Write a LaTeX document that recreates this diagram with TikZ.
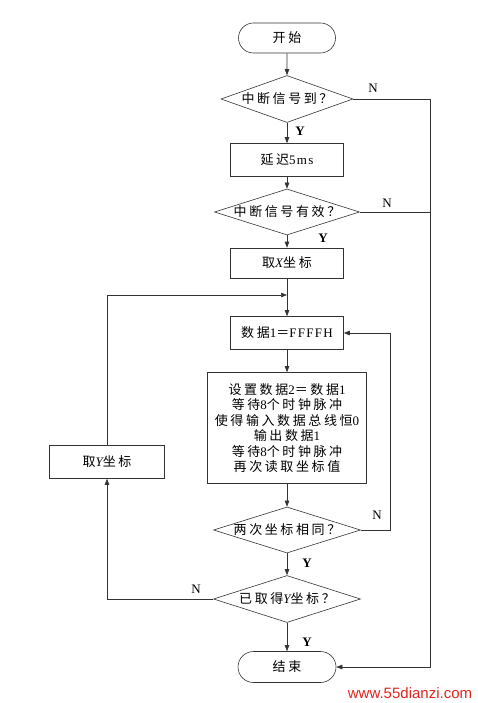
\documentclass[tikz,border=0pt]{standalone}
\usepackage{fontspec}
\setmainfont{Liberation Serif}
\newfontfamily\cjk{Noto Sans CJK SC}[LetterSpace=20]
\newfontfamily\latsp{Liberation Serif}[LetterSpace=10]
\newfontfamily\wmfont{Liberation Sans}
\usepackage{xcolor}
\usepackage{tikz}
\usetikzlibrary{arrows.meta,positioning,shapes.geometric,shapes.misc}
\definecolor{linec}{HTML}{333333}
\definecolor{markc}{HTML}{E0241E}
\newcommand{\lat}[1]{{\latsp #1}}
\tikzset{
  ar/.style={-{Triangle[length=6pt,width=4.5pt]},linec,line width=0.6pt},
  ln/.style={linec,line width=0.6pt},
  box/.style={draw=linec,line width=0.6pt,align=center,inner sep=0pt,font=\fontsize{13}{15.5}\selectfont\cjk},
  term/.style={box,rounded rectangle},
  dec/.style={box,diamond,aspect=3,text height=9.5pt,text depth=1pt},
  yn/.style={font=\fontsize{13}{14}\selectfont,inner sep=0pt},
  yes/.style={yn,font=\fontsize{13}{14}\selectfont\bfseries}
}
\begin{document}
\begin{tikzpicture}[x=1pt,y=-1pt]
\useasboundingbox (0,0) rectangle (478,703);
% main column
\node[term,minimum width=97pt,minimum height=30pt] (start) at (287,38) {开始};
\node[dec,minimum width=132pt,minimum height=47pt] (d1) at (287,99) {中断信号到？};
\node[box,minimum width=113pt,minimum height=33pt] (b1) at (287,160) {延迟\lat{5ms}};
\node[dec,minimum width=145pt,minimum height=46pt] (d2) at (287,212) {中断信号有效？};
\node[box,minimum width=113pt,minimum height=30pt] (b2) at (287,263) {取\lat{\itshape X}坐标};
\node[box,minimum width=113pt,minimum height=33pt] (b3) at (287,333) {数据\lat{1}＝\lat{FFFFH}};
\node[box,minimum width=159pt,minimum height=111pt] (b4) at (287,428) {设置数据\lat{2}＝数据\lat{1}\\等待\lat{8}个时钟脉冲\\使得输入数据总线恒\lat{0}\\输出数据\lat{1}\\等待\lat{8}个时钟脉冲\\再次读取坐标值};
\node[dec,minimum width=147pt,minimum height=45pt] (d3) at (287,530) {两次坐标相同？};
\node[dec,minimum width=147pt,minimum height=47pt] (d4) at (287,599) {已取得\lat{\itshape Y}坐标？};
\node[term,minimum width=98pt,minimum height=31pt] (end) at (287,667) {结束};
% left branch
\node[box,minimum width=115pt,minimum height=33pt] (by) at (107,462) {取\lat{\itshape Y}坐标};
% Y / N marks
\node[yn] (n1) at (373,88) {N};
\node[yes] (y1) at (300,131) {Y};
\node[yn] (n2) at (387,203) {N};
\node[yes] (y2) at (323,238) {Y};
\node[yn] (n3) at (377,515) {N};
\node[yes] (y3) at (307,563) {Y};
\node[yn] (n4) at (196,589) {N};
\node[yes] (y4) at (307,642) {Y};
\coordinate (rt) at (430,99);
\coordinate (rb) at (430,667);
\coordinate (lp) at (390,530);
\coordinate (jn) at (287,295);
% connectors
\draw[ar] (start) -- (d1);
\draw[ar] (d1) -- (b1);
\draw[ar] (b1) -- (d2);
\draw[ar] (d2) -- (b2);
\draw[ar] (b2) -- (b3);
\draw[ar] (b3) -- (b4);
\draw[ar] (b4) -- (d3);
\draw[ar] (d3) -- (d4);
\draw[ar] (d4) -- (end);
\draw[ar] (d1.east) -- (rt) -- (rb) -- (end.east);
\draw[ln] (d2.east) -- (d2.east -| rt);
\draw[ar] (d3.east) -- (lp) |- (b3.east);
\draw[ar] (d4.west) -| (by.south);
\draw[ar] (by.north) |- (jn);
\node[font=\wmfont\fontsize{15}{15}\selectfont,text=markc,inner sep=0pt] (mark) at (410,693) {www.55dianzi.com};
\end{tikzpicture}
\end{document}
